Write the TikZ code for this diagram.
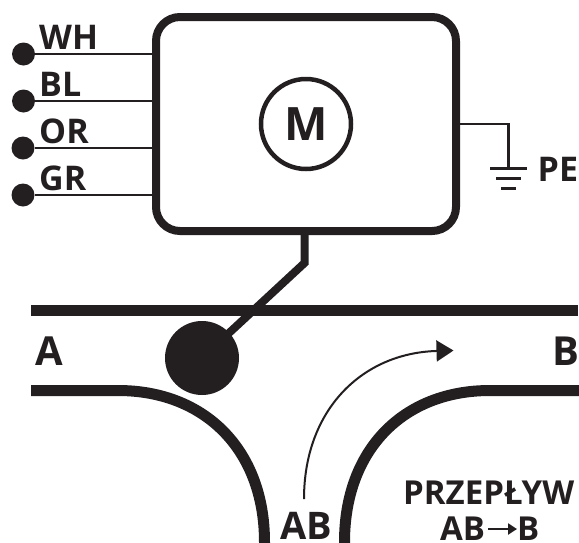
\documentclass[tikz,border=0pt]{standalone}
\usepackage{fontspec}
\setmainfont{Open Sans}
\usetikzlibrary{arrows.meta,positioning}
\definecolor{ink}{HTML}{231F20}

\begin{document}
\begin{tikzpicture}[x=1pt,y=-1pt,draw=ink,text=ink,
    wire/.style={line width=2.4pt},
    dotend/.style={circle,fill=ink,inner sep=0pt,minimum size=23pt},
    lbl/.style={anchor=base west,inner sep=0pt,font=\bfseries\fontsize{34}{34}\selectfont},
    biglbl/.style={lbl,font=\bfseries\fontsize{40}{40}\selectfont},
    pipe/.style={line width=11pt},
    motorbox/.style={draw,line width=8pt,rounded corners=24pt,minimum width=300pt,minimum height=214pt,inner sep=0pt},
    motor/.style={circle,draw,line width=4.5pt,minimum size=90pt,inner sep=0pt,font=\bfseries\fontsize{46}{46}\selectfont},
    flowlbl/.style={lbl,font=\bfseries\fontsize{33}{33}\selectfont}]

  \path[use as bounding box,clip] (0,0) rectangle (579,542);

  % motor
  \node[motorbox] (box) at (306,124) {};
  \node[motor] (m) at (306,124) {M};

  % terminals
  \node[dotend] (wh) at (23.5,54) {};
  \node[dotend] (bl) at (23.5,101) {};
  \node[dotend] (or) at (23,148) {};
  \node[dotend] (gr) at (23,195) {};
  \foreach \t in {wh,bl,or,gr}
    \draw[wire] (\t) -- (\t -| box.west);
  \node[lbl] (lwh) at (39,49.5) {WH};
  \node[lbl] (lbl) at (39,96.5) {BL};
  \node[lbl] (lor) at (39,143.5) {OR};
  \node[lbl] (lgr) at (39,190) {GR};

  % earth
  \coordinate (pe) at (508.5,124);
  \coordinate (g1) at (508.5,168.5);
  \draw[line width=2.2pt] (box.east) -- (pe) -- (g1);
  \draw[line width=2.6pt] (490,168.5) -- (527,168.5)
                          (496,178.5) -- (521,178.5)
                          (501,188.5) -- (516,188.5);
  \node[lbl] (lpe) at (537.5,181) {PE};

  % valve
  \node[circle,fill=ink,inner sep=0pt,minimum size=74pt] (ball) at (202,358) {};
  \coordinate (stem) at (304.5,235);
  \coordinate (bend) at (304.5,263);
  \draw[line width=8pt,line join=miter] (stem) -- (bend) -- (ball.center);

  % pipes
  \draw[pipe] (31,310.5) -- (578,310.5);
  \draw[pipe] (31,390.5) -- (118,390.5) .. controls (205,390.5) and (264.5,450) .. (264.5,542) -- (264.5,550);
  \draw[pipe] (579,390.5) -- (490,390.5) .. controls (403,390.5) and (344.5,450) .. (344.5,542) -- (344.5,550);

  % flow
  \coordinate (from) at (304,499);
  \coordinate (to) at (453.5,350.5);
  \draw[line width=2pt,-{Triangle[length=17pt,width=21pt]}] (from) .. controls (304,410) and (362,353) .. (to);

  \node[biglbl] (a) at (35,365) {A};
  \node[biglbl] (b) at (552,365) {B};
  \node[lbl,font=\bfseries\fontsize{38}{38}\selectfont] (ab) at (280,539) {AB};
  \node[flowlbl] (przeplyw) at (403,504) {PRZEPŁYW};
  \node[flowlbl] (fa) at (440,540) {AB};
  \node[flowlbl] (fb) at (517,540) {B};
  \draw[line width=2.6pt,shorten <=3pt,-{Triangle[length=9pt,width=11pt]}] ([yshift=11pt]fa.base east) -- ([yshift=11pt]fb.base west);
\end{tikzpicture}
\end{document}
